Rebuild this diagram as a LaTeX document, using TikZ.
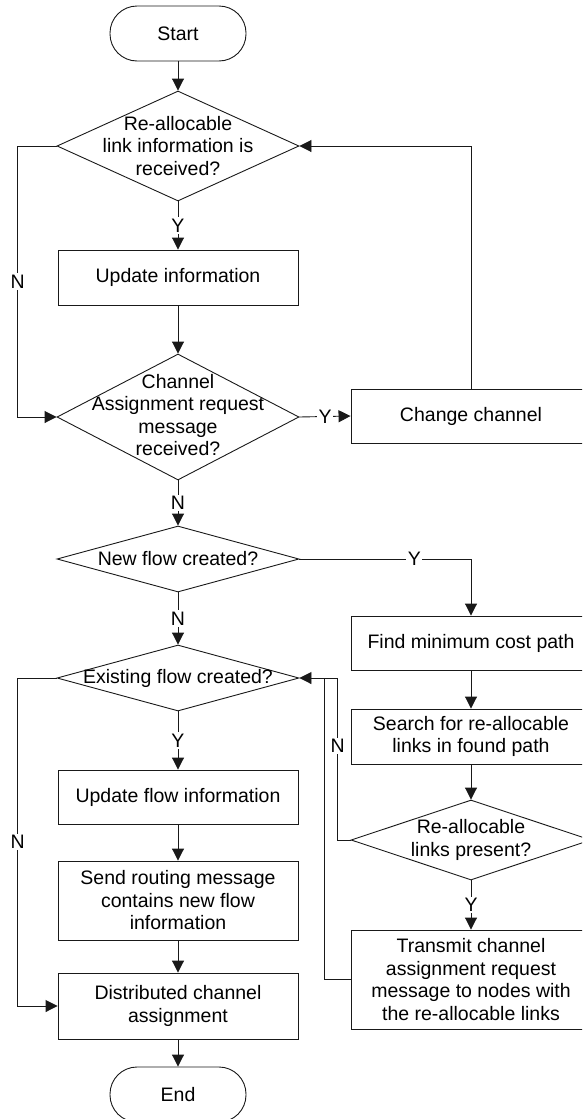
\documentclass[tikz,border=0pt]{standalone}
\usepackage{fontspec}
\setmainfont{Liberation Sans}
\usetikzlibrary{shapes.geometric,arrows.meta}
\tikzset{
  base/.style={draw=black!90, line width=0.9pt},
  box/.style={base, rectangle, minimum width=240pt, inner sep=0pt, align=center},
  term/.style={base, rectangle, rounded corners=27pt, minimum width=136pt, minimum height=55pt, inner sep=0pt},
  dia/.style={base, diamond, inner sep=0pt, minimum width=242pt},
  txt/.style={align=center, inner sep=0pt},
  conn/.style={line width=0.9pt, draw=black!90, -{Triangle[length=12pt,width=12pt]}},
  plain/.style={line width=0.9pt, draw=black!90},
  lab/.style={fill=white, inner sep=1.5pt}
}
\begin{document}
\begin{tikzpicture}[x=1pt, y=-1pt, font=\fontsize{19.5}{22.5}\selectfont]
\useasboundingbox (0,0) rectangle (582,1119);
\clip (0,0) rectangle (582,1119);
% left column
\node[term] (start) at (178,33.5) {Start};
\node[dia, minimum height=110pt] (d1) at (178,146) {};
\node[txt] (t1) at (d1) {Re-allocable\\link information is\\received?};
\node[box, minimum height=55pt] (upd) at (178,277.5) {Update information};
\node[dia, minimum height=126pt] (d2) at (178,417) {};
\node[txt] (t2) at (178,415) {Channel\\Assignment request\\message\\received?};
\node[dia, minimum height=66pt] (d3) at (178,559) {};
\node[txt] (t3) at (d3) {New flow created?};
\node[dia, minimum height=66pt] (d4) at (178,678) {};
\node[txt] (t4) at (d4) {Existing flow created?};
\node[box, minimum height=54pt] (updflow) at (178,797) {Update flow information};
\node[box, minimum height=79pt] (send) at (178,900.5) {Send routing message\\contains new flow\\information};
\node[box, minimum height=66pt] (dist) at (178,1006) {Distributed channel\\assignment};
\node[term] (endn) at (178,1094.5) {End};
% right column
\node[box, minimum height=54pt] (chg) at (471,416) {Change channel};
\node[box, minimum height=54pt] (find) at (471,643) {Find minimum cost path};
\node[box, minimum height=55pt] (search) at (471,736.5) {Search for re-allocable\\links in found path};
\node[dia, minimum width=240pt, minimum height=80pt] (d5) at (471,840) {};
\node[txt] (t5) at (d5) {Re-allocable\\links present?};
\node[box, minimum height=99pt] (trans) at (471,979.5) {Transmit channel\\assignment request\\message to nodes with\\the re-allocable links};
\coordinate (join) at (324,678);
% connectors
\draw[conn] (start) -- (d1);
\draw[conn] (d1.south) -- node[lab]{Y} (upd.north);
\draw[conn] (d1.west) -- ++(-39,0) |- node[lab,pos=0.25]{N} (d2.west);
\draw[conn] (upd) -- (d2);
\draw[conn] (d2.east) -- node[lab]{Y} (chg.west);
\draw[conn] (chg.north) |- (d1.east);
\draw[conn] (d2.south) -- node[lab]{N} (d3.north);
\draw[conn] (d3.east) -| node[lab,pos=0.335]{Y} (find.north);
\draw[conn] (d3.south) -- node[lab]{N} (d4.north);
\draw[conn] (d4.south) -- node[lab]{Y} (updflow.north);
\draw[conn] (d4.west) -- ++(-39,0) |- node[lab,pos=0.25]{N} (dist.west);
\draw[conn] (updflow) -- (send);
\draw[conn] (send) -- (dist);
\draw[conn] (dist) -- (endn);
\draw[conn] (find) -- (search);
\draw[conn] (search) -- (d5);
\draw[conn] (d5.south) -- node[lab]{Y} (trans.north);
\draw[conn] (d5.west) -- ++(-13,0) |- node[lab,pos=0.29]{N} (d4.east);
\draw[plain] (trans.west) -| (join);
\end{tikzpicture}
\end{document}
